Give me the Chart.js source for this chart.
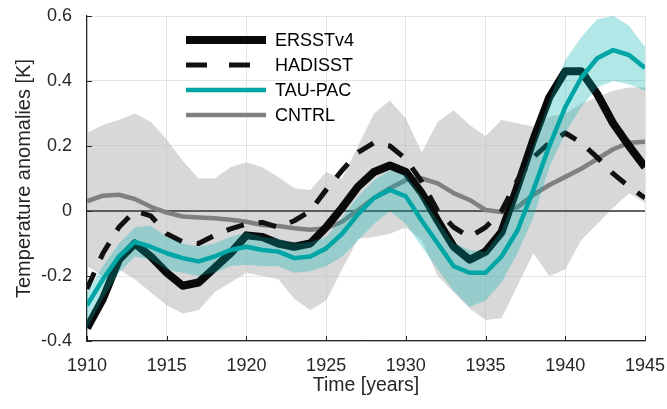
<!DOCTYPE html>
<html>
<head>
<meta charset="utf-8">
<script src="https://cdn.jsdelivr.net/npm/chart.js@4.4.0/dist/chart.umd.min.js"></script>
<style>
html, body { margin: 0; padding: 0; background: #fff; }
</style>
</head>
<body>
<canvas id="anomalyChart" width="667" height="409"></canvas>
<script>
const years = [1910, 1911, 1912, 1913, 1914, 1915, 1916, 1917, 1918, 1919,
               1920, 1921, 1922, 1923, 1924, 1925, 1926, 1927, 1928, 1929,
               1930, 1931, 1932, 1933, 1934, 1935, 1936, 1937, 1938, 1939,
               1940, 1941, 1942, 1943, 1944, 1945];

const ersst = [-0.36, -0.27, -0.15, -0.10, -0.14, -0.19, -0.23, -0.22, -0.175, -0.13,
               -0.075, -0.08, -0.10, -0.11, -0.10, -0.05, 0.01, 0.075, 0.12, 0.14,
               0.12, 0.055, -0.03, -0.11, -0.15, -0.125, -0.065, 0.075, 0.22, 0.35,
               0.43, 0.43, 0.36, 0.27, 0.20, 0.135];

const hadisst = [-0.24, -0.13, -0.05, 0.0, -0.015, -0.07, -0.095, -0.10, -0.075, -0.055,
                 -0.04, -0.035, -0.05, -0.03, 0.0, 0.065, 0.125, 0.18, 0.21, 0.20,
                 0.16, 0.09, 0.0, -0.05, -0.08, -0.05, 0.0, 0.095, 0.165, 0.21,
                 0.24, 0.21, 0.165, 0.115, 0.075, 0.04];

const tauPac = [-0.29, -0.21, -0.14, -0.095, -0.11, -0.13, -0.145, -0.155, -0.14, -0.12,
                -0.11, -0.12, -0.125, -0.145, -0.14, -0.115, -0.07, -0.01, 0.04, 0.065,
                0.045, -0.03, -0.10, -0.17, -0.19, -0.19, -0.14, -0.06, 0.065, 0.20,
                0.32, 0.41, 0.47, 0.495, 0.48, 0.44];

const tauUpper = [-0.25, -0.17, -0.10, -0.05, -0.045, -0.08, -0.10, -0.11, -0.10, -0.08,
                  -0.065, -0.08, -0.085, -0.10, -0.095, -0.08, -0.02, 0.045, 0.095, 0.125,
                  0.11, 0.045, -0.03, -0.10, -0.12, -0.125, -0.06, 0.065, 0.20, 0.34,
                  0.465, 0.535, 0.59, 0.60, 0.57, 0.505];

const tauLower = [-0.36, -0.27, -0.19, -0.14, -0.15, -0.18, -0.19, -0.20, -0.19, -0.17,
                  -0.165, -0.17, -0.17, -0.19, -0.185, -0.17, -0.14, -0.09, -0.04, 0.0,
                  -0.04, -0.11, -0.18, -0.245, -0.295, -0.275, -0.22, -0.13, -0.02, 0.135,
                  0.24, 0.32, 0.38, 0.40, 0.39, 0.37];

const cntrl = [0.03, 0.047, 0.05, 0.037, 0.013, -0.005, -0.017, -0.02, -0.022, -0.027,
               -0.033, -0.043, -0.046, -0.053, -0.058, -0.053, -0.033, 0.003, 0.04, 0.07,
               0.095, 0.10, 0.085, 0.055, 0.034, 0.003, -0.003, 0.012, 0.05, 0.08,
               0.105, 0.13, 0.16, 0.19, 0.21, 0.213];

const cntrlUpper = [0.24, 0.265, 0.28, 0.30, 0.275, 0.22, 0.155, 0.10, 0.10, 0.135,
                    0.15, 0.135, 0.105, 0.07, 0.065, 0.12, 0.10, 0.20, 0.30, 0.34,
                    0.285, 0.18, 0.275, 0.31, 0.265, 0.23, 0.28, 0.27, 0.26, 0.29,
                    0.30, 0.33, 0.35, 0.37, 0.38, 0.38];

const cntrlLower = [-0.17, -0.20, -0.18, -0.21, -0.25, -0.29, -0.315, -0.305, -0.25, -0.22,
                    -0.19, -0.20, -0.21, -0.27, -0.305, -0.275, -0.18, -0.085, -0.08, -0.07,
                    -0.05, -0.09, -0.20, -0.25, -0.30, -0.335, -0.33, -0.23, -0.13, -0.20,
                    -0.18, -0.09, -0.04, 0.01, 0.055, 0.025];

const legendNames = ['ERSSTv4', 'HADISST', 'TAU-PAC', 'CNTRL'];

const FONT = '"Liberation Sans", Arial, Helvetica, sans-serif';
const TEXT = '#262626';

const pts = arr => years.map((yr, i) => ({x: yr, y: arr[i]}));

// zero line under the model lines, and MATLAB style inward ticks
const axisExtras = {
    id: 'axisExtras',
    beforeDatasetDraw(chart, args) {
        if (args.index !== 5) return;
        const {ctx, chartArea} = chart;
        const y0 = chart.scales.y.getPixelForValue(0);
        ctx.save();
        ctx.strokeStyle = '#333';
        ctx.lineWidth = 1.5;
        ctx.beginPath();
        ctx.moveTo(chartArea.left, y0);
        ctx.lineTo(chartArea.right, y0);
        ctx.stroke();
        ctx.restore();
    },
    afterDatasetsDraw(chart) {
        const {ctx, chartArea} = chart;
        const xs = chart.scales.x, ys = chart.scales.y;
        ctx.save();
        ctx.strokeStyle = TEXT;
        ctx.lineWidth = 1;
        ctx.beginPath();
        xs.ticks.forEach(t => {
            const px = Math.round(xs.getPixelForValue(t.value)) + 0.5;
            ctx.moveTo(px, chartArea.bottom);
            ctx.lineTo(px, chartArea.bottom - 5);
        });
        ys.ticks.forEach(t => {
            const py = Math.round(ys.getPixelForValue(t.value)) + 0.5;
            ctx.moveTo(chartArea.left, py);
            ctx.lineTo(chartArea.left + 5, py);
        });
        ctx.stroke();
        ctx.restore();
    }
};

// legend box in the upper left of the axes
const legendBox = {
    id: 'legendBox',
    afterDraw(chart) {
        const ctx = chart.ctx;
        ctx.save();
        legendNames.forEach((name, i) => {
            const ds = chart.data.datasets.find(d => d.label === name);
            const y = 40 + i * 25;
            ctx.strokeStyle = ds.borderColor;
            ctx.lineWidth = ds.borderWidth;
            ctx.setLineDash(ds.borderDash ? [21, 22] : []);
            ctx.lineCap = 'butt';
            ctx.beginPath();
            ctx.moveTo(186, y);
            ctx.lineTo(266, y);
            ctx.stroke();
            ctx.setLineDash([]);
            ctx.fillStyle = '#000';
            ctx.font = '18px ' + FONT;
            ctx.textBaseline = 'middle';
            ctx.fillText(name, 275, y + 1);
        });
        ctx.restore();
    }
};

new Chart('anomalyChart', {
    type: 'line',
    data: {
        datasets: [
            {
                label: 'TAU-PAC',
                data: pts(tauPac),
                borderColor: '#00a6a6',
                borderWidth: 4.5,
                order: 0
            },
            {
                label: 'TAU-PAC upper',
                data: pts(tauUpper),
                borderWidth: 0,
                backgroundColor: 'rgba(0, 175, 175, 0.3)',
                fill: '+1',
                order: 1
            },
            {
                label: 'TAU-PAC lower',
                data: pts(tauLower),
                borderWidth: 0,
                order: 2
            },
            {
                label: 'HADISST',
                data: pts(hadisst),
                borderColor: '#111',
                borderWidth: 5,
                borderDash: [18, 15],
                order: 3
            },
            {
                label: 'ERSSTv4',
                data: pts(ersst),
                borderColor: '#0a0a0a',
                borderWidth: 8,
                order: 4
            },
            {
                label: 'CNTRL',
                data: pts(cntrl),
                borderColor: '#808080',
                borderWidth: 4.5,
                order: 5
            },
            {
                label: 'CNTRL upper',
                data: pts(cntrlUpper),
                borderWidth: 0,
                backgroundColor: 'rgba(190, 190, 190, 0.6)',
                fill: '+1',
                order: 6
            },
            {
                label: 'CNTRL lower',
                data: pts(cntrlLower),
                borderWidth: 0,
                order: 7
            }
        ]
    },
    options: {
        responsive: false,
        maintainAspectRatio: false,
        animation: false,
        elements: {
            point: { radius: 0 },
            line: { tension: 0, borderJoinStyle: 'round', borderCapStyle: 'butt' }
        },
        layout: { padding: { top: 16, right: 22, left: 0, bottom: 0 } },
        plugins: {
            legend: { display: false },
            tooltip: { enabled: false }
        },
        scales: {
            x: {
                type: 'linear',
                min: 1910,
                max: 1945,
                afterFit: s => {
                    s.height = 68;
                    s.paddingLeft = 0;
                    s.paddingRight = 0;
                },
                ticks: {
                    stepSize: 5,
                    maxRotation: 0,
                    padding: 14,
                    color: TEXT,
                    font: { family: FONT, size: 18 },
                    callback: v => String(v)
                },
                grid: { color: '#e4e4e4', drawTicks: false },
                border: { color: TEXT, width: 1.2 },
                title: {
                    display: true,
                    text: 'Time [years]',
                    color: TEXT,
                    font: { family: FONT, size: 19.5 },
                    padding: { top: 0, bottom: 12 }
                }
            },
            y: {
                min: -0.4,
                max: 0.6,
                afterFit: s => {
                    s.width = 87;
                    s.paddingTop = 0;
                    s.paddingBottom = 0;
                },
                ticks: {
                    stepSize: 0.2,
                    padding: 15,
                    color: TEXT,
                    font: { family: FONT, size: 18 },
                    callback: v => Math.abs(v) < 1e-9 ? '0' : v.toFixed(1)
                },
                grid: { color: '#e4e4e4', drawTicks: false },
                border: { color: TEXT, width: 1.2 },
                title: {
                    display: true,
                    text: 'Temperature anomalies [K]',
                    color: TEXT,
                    font: { family: FONT, size: 20 },
                    padding: { top: 12, bottom: 0 }
                }
            }
        }
    },
    plugins: [axisExtras, legendBox]
});
</script>
</body>
</html>
